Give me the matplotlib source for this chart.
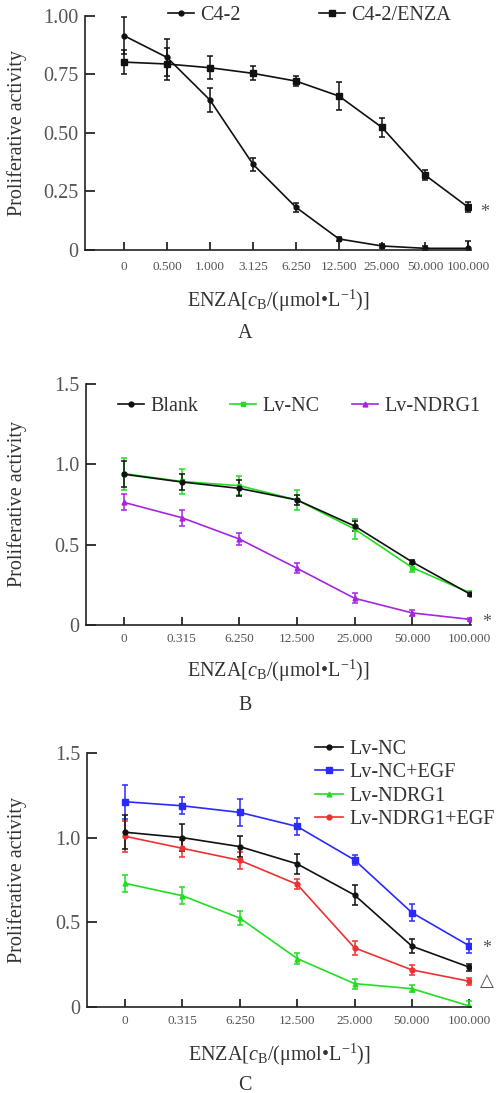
import matplotlib
matplotlib.use("Agg")
import matplotlib.pyplot as plt
from matplotlib.lines import Line2D

plt.rcParams["font.family"] = ["Liberation Serif", "DejaVu Serif"]
plt.rcParams["mathtext.fontset"] = "custom"
plt.rcParams["mathtext.rm"] = "Liberation Serif"
plt.rcParams["mathtext.it"] = "Liberation Serif:italic"

# === DATA ===
# Panel A
a_ticks = ["0", "0.500", "1.000", "3.125", "6.250", "12.500", "25.000", "50.000", "100.000"]
a_c42 = [0.915, 0.822, 0.640, 0.366, 0.182, 0.047, 0.017, 0.007, 0.007]
a_c42_err = [0.08, 0.08, 0.05, 0.028, 0.02, 0.01, 0.01, 0.01, 0.03]
a_enza = [0.802, 0.794, 0.778, 0.754, 0.721, 0.657, 0.523, 0.320, 0.183]
a_enza_err = [0.05, 0.07, 0.05, 0.03, 0.02, 0.06, 0.04, 0.02, 0.02]

# Panel B
b_ticks = ["0", "0.315", "6.250", "12.500", "25.000", "50.000", "100.000"]
b_blank = [0.938, 0.890, 0.850, 0.778, 0.616, 0.392, 0.193]
b_blank_err = [0.08, 0.05, 0.05, 0.03, 0.03, 0.01, 0.01]
b_lvnc = [0.942, 0.893, 0.867, 0.778, 0.597, 0.357, 0.200]
b_lvnc_err = [0.10, 0.08, 0.06, 0.06, 0.06, 0.03, 0.01]
b_ndrg1 = [0.763, 0.668, 0.535, 0.353, 0.166, 0.075, 0.035]
b_ndrg1_err = [0.05, 0.05, 0.04, 0.03, 0.03, 0.02, 0.01]

# Panel C
c_ticks = ["0", "0.315", "6.250", "12.500", "25.000", "50.000", "100.000"]
c_lvnc = [1.032, 1.000, 0.947, 0.845, 0.661, 0.359, 0.235]
c_lvnc_err = [0.10, 0.08, 0.06, 0.06, 0.06, 0.04, 0.02]
c_lvnc_egf = [1.212, 1.188, 1.149, 1.066, 0.868, 0.557, 0.361]
c_lvnc_egf_err = [0.10, 0.05, 0.08, 0.05, 0.03, 0.05, 0.04]
c_ndrg1 = [0.730, 0.657, 0.525, 0.286, 0.138, 0.108, 0.006]
c_ndrg1_err = [0.05, 0.05, 0.04, 0.03, 0.03, 0.02, 0.03]
c_ndrg1_egf = [1.008, 0.937, 0.866, 0.724, 0.349, 0.219, 0.152]
c_ndrg1_egf_err = [0.09, 0.05, 0.05, 0.03, 0.04, 0.03, 0.02]
# === END DATA ===

TXT = "#333333"
TICK_FS = 9.5
LABEL_FS = 14.5
XLABEL = r"ENZA[$c_{\mathrm{B}}$/(μmol•L$^{-1}$)]"

fig = plt.figure(figsize=(5.02, 10.93), dpi=100)


def style_axes(ax, ticks, yticks, ylabels, ylim, xlim, xlab_y, ylab_x, xpad):
    ax.set_xticks(range(len(ticks)))
    ax.set_xticklabels(ticks)
    ax.set_yticks(yticks)
    ax.set_yticklabels(ylabels)
    ax.set_ylim(*ylim)
    ax.set_xlim(*xlim)
    for s in ("top", "right"):
        ax.spines[s].set_visible(False)
    for s in ("left", "bottom"):
        ax.spines[s].set_linewidth(1.2)
        ax.spines[s].set_color("#222222")
    ax.tick_params(axis="y", direction="in", length=7, width=1.1,
                   labelsize=LABEL_FS, labelcolor="#555555", pad=5)
    ax.tick_params(axis="x", direction="in", length=6, width=1.1,
                   labelsize=TICK_FS, labelcolor="#555555", pad=xpad)
    ax.set_xlabel(XLABEL, fontsize=LABEL_FS, color=TXT)
    ax.set_ylabel("Proliferative activity", fontsize=LABEL_FS, color=TXT)
    ax.xaxis.set_label_coords(0.5, xlab_y)
    ax.yaxis.set_label_coords(ylab_x, 0.5)


def series(ax, y, err, color, marker, label, ms=4):
    x = list(range(len(y)))
    ax.errorbar(x, y, yerr=err, color=color, marker=marker, markersize=ms,
                linewidth=1.2, elinewidth=1.1, capsize=2.5, capthick=1.1)
    handle = Line2D([], [], color=color, marker=marker, markersize=ms,
                    linewidth=1.2, label=label)
    return x, handle


def add_legend(ax, handles, **kw):
    ax.legend(handles=handles, frameon=False, fontsize=LABEL_FS, numpoints=1,
              handletextpad=0.3, borderpad=0, borderaxespad=0, labelcolor=TXT, **kw)


# ---------------- Panel A ----------------
axA = fig.add_axes([0.1693, 0.7713, 0.769, 0.2143])
_, hA1 = series(axA, a_c42, a_c42_err, "#111111", "o", "C4-2", ms=3.5)
xa, hA2 = series(axA, a_enza, a_enza_err, "#111111", "s", "C4-2/ENZA", ms=4)
axA.annotate("*", xy=(xa[-1], a_enza[-1]), xytext=(9, -4), textcoords="offset points",
             va="center", fontsize=13, color="#555555")
style_axes(axA, a_ticks, [0, 0.25, 0.5, 0.75, 1.0], ["0", "0.25", "0.50", "0.75", "1.00"],
           (0, 1.0), (-0.907, 8.07), -0.162, -0.150, 8)
add_legend(axA, [hA1, hA2], loc="center left", bbox_to_anchor=(0.215, 1.0), ncol=2,
           handlelength=1.3, columnspacing=3.9)
fig.text(245 / 502, 1 - 333 / 1093, "A", ha="center", va="center", fontsize=LABEL_FS, color=TXT)

# ---------------- Panel B ----------------
axB = fig.add_axes([0.1713, 0.4282, 0.767, 0.2205])
_, hB2 = series(axB, b_lvnc, b_lvnc_err, "#22dd22", "s", "Lv-NC", ms=3.5)
_, hB1 = series(axB, b_blank, b_blank_err, "#111111", "o", "Blank", ms=3.5)
xb, hB3 = series(axB, b_ndrg1, b_ndrg1_err, "#a526e0", "^", "Lv-NDRG1", ms=3.5)
axB.annotate("*", xy=(xb[-1], b_ndrg1[-1]), xytext=(9, -2), textcoords="offset points",
             va="center", fontsize=13, color="#555555")
style_axes(axB, b_ticks, [0, 0.5, 1.0, 1.5], ["0", "0.5", "1.0", "1.5"],
           (0, 1.5), (-0.66, 6.02), -0.137, -0.153, 6)
add_legend(axB, [hB1, hB2, hB3], loc="center left", bbox_to_anchor=(0.083, 0.905), ncol=3,
           handlelength=1.3, columnspacing=1.6)
fig.text(245 / 502, 1 - 705 / 1093, "B", ha="center", va="center", fontsize=LABEL_FS, color=TXT)

# ---------------- Panel C ----------------
axC = fig.add_axes([0.1733, 0.0787, 0.765, 0.2324])
_, hC2 = series(axC, c_lvnc_egf, c_lvnc_egf_err, "#2a2aff", "s", "Lv-NC+EGF", ms=4)
_, hC4 = series(axC, c_ndrg1_egf, c_ndrg1_egf_err, "#f03030", "o", "Lv-NDRG1+EGF", ms=3.5)
xc, hC3 = series(axC, c_ndrg1, c_ndrg1_err, "#22dd22", "^", "Lv-NDRG1", ms=3.5)
_, hC1 = series(axC, c_lvnc, c_lvnc_err, "#111111", "o", "Lv-NC", ms=3.5)
axC.annotate("*", xy=(xc[-1], c_lvnc_egf[-1]), xytext=(9, -2), textcoords="offset points",
             va="center", fontsize=13, color="#555555")
axC.annotate("△", xy=(xc[-1], c_ndrg1_egf[-1]), xytext=(8, 0), textcoords="offset points",
             va="center", fontsize=13, color="#555555",
             family=["DejaVu Sans"])
style_axes(axC, c_ticks, [0, 0.5, 1.0, 1.5], ["0", "0.5", "1.0", "1.5"],
           (0, 1.5), (-0.663, 6.03), -0.138, -0.156, 6)
add_legend(axC, [hC1, hC2, hC3, hC4], loc="upper left", bbox_to_anchor=(0.594, 1.05),
           ncol=1, handlelength=1.4, labelspacing=0.2)
fig.text(245 / 502, 1 - 1085 / 1093, "C", ha="center", va="center", fontsize=LABEL_FS, color=TXT)

fig.savefig("out.png", dpi=100, facecolor="white")
